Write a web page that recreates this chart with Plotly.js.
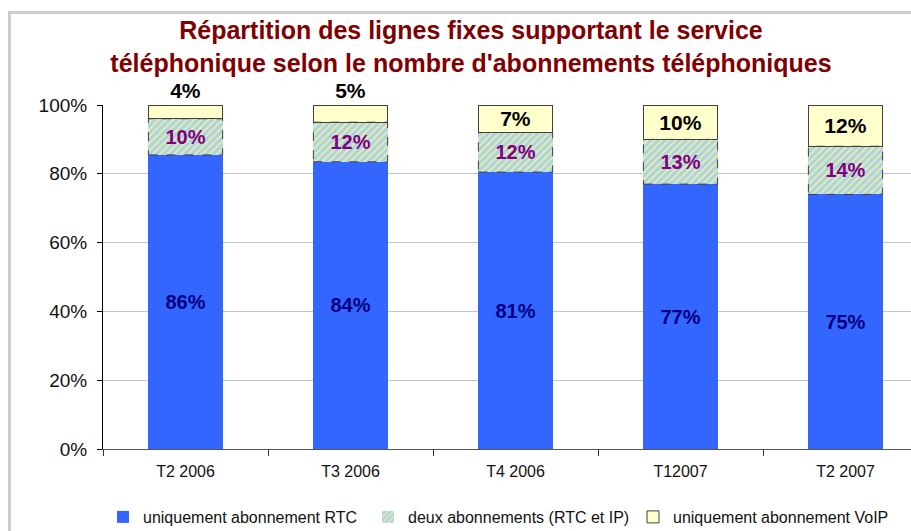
<!DOCTYPE html>
<html>
<head>
<meta charset="utf-8">
<script src="https://cdn.plot.ly/plotly-3.0.1.min.js"></script>
<style>
  html, body { margin:0; padding:0; background:#fff; overflow:hidden; width:911px; height:531px; }
  #frame { position:absolute; left:8px; top:11px; width:1000px; height:600px; border-left:3px solid #cccccc; border-top:3px solid #cccccc; pointer-events:none; z-index:5; }
  #chart { position:absolute; left:0; top:0; }
</style>
</head>
<body>
<div id="chart"></div>
<div id="frame"></div>
<script>
const categories = ['T2 2006', 'T3 2006', 'T4 2006', 'T12007', 'T2 2007'];
const rtcValues  = [85.5, 83.5, 80.5, 77, 74];
const deuxValues = [10.5, 11.5, 11.5, 13, 14];
const voipValues = [4, 5, 8, 10, 12];
const rtcLabels  = ['86%', '84%', '81%', '77%', '75%'];
const deuxLabels = ['10%', '12%', '12%', '13%', '14%'];
const voipLabels = ['4%', '5%', '7%', '10%', '12%'];
const seriesNames = ['uniquement abonnement RTC', 'deux abonnements (RTC et IP)', 'uniquement abonnement VoIP'];
const yTickVals = [0, 20, 40, 60, 80, 100];
const yTickText = ['0%', '20%', '40%', '60%', '80%', '100%'];
const titleText = 'Répartition des lignes fixes supportant le service<br>téléphonique selon le nombre d\'abonnements téléphoniques';

const FONT = 'Liberation Sans, Arial, sans-serif';
const BAR_W = 0.45;
const W = 928;

const traces = [
  {
    type: 'bar', name: seriesNames[0], x: categories, y: rtcValues,
    width: BAR_W, text: rtcLabels, textposition: 'inside', insidetextanchor: 'middle',
    textangle: 0, constraintext: 'none',
    textfont: { family: FONT, size: 20, color: '#000080', weight: 'bold' },
    marker: { color: '#3366ff', line: { width: 0 } },
    hoverinfo: 'skip'
  },
  {
    type: 'bar', name: seriesNames[1], x: categories, y: deuxValues,
    width: BAR_W, text: deuxLabels, textposition: 'inside', insidetextanchor: 'middle',
    textangle: 0, constraintext: 'none',
    textfont: { family: FONT, size: 20, color: '#800080', weight: 'bold' },
    marker: { color: '#a8d2f2', line: { width: 0 },
      pattern: { shape: '/', fgcolor: '#f2f08c', bgcolor: '#a8d2f2', fillmode: 'replace', size: 5, solidity: 0.35 } },
    hoverinfo: 'skip'
  },
  {
    type: 'bar', name: seriesNames[2], x: categories, y: voipValues,
    width: BAR_W, text: voipLabels,
    textposition: ['outside', 'outside', 'inside', 'inside', 'inside'],
    insidetextanchor: 'middle', textangle: 0, constraintext: 'none', cliponaxis: false,
    textfont: { family: FONT, size: 21, color: '#000000', weight: 'bold' },
    outsidetextfont: { family: FONT, size: 21, color: '#000000', weight: 'bold' },
    marker: { color: '#ffffcc', line: { width: 1, color: '#404040' } },
    hoverinfo: 'skip'
  }
];

// dashed outline around the middle series, derived from the data arrays
const shapes = categories.map((c, i) => ({
  type: 'rect', xref: 'x', yref: 'y', layer: 'above',
  x0: i - BAR_W / 2, x1: i + BAR_W / 2,
  y0: rtcValues[i], y1: rtcValues[i] + deuxValues[i],
  line: { color: '#404040', width: 1, dash: 'dash' }
}));

const layout = {
  width: W, height: 531,
  margin: { l: 103, r: 0, t: 105, b: 82, pad: 0 },
  paper_bgcolor: '#ffffff', plot_bgcolor: '#ffffff',
  barmode: 'stack', showlegend: true,
  title: {
    text: titleText, xref: 'container', x: 471 / W, xanchor: 'center',
    yref: 'container', y: 1 - 39 / 531, yanchor: 'top',
    font: { family: FONT, size: 25, color: '#800000', weight: 'bold' }
  },
  xaxis: {
    type: 'category', range: [-0.5, 4.5], tickson: 'boundaries',
    ticks: 'outside', ticklen: 6, tickcolor: '#333', showline: true, linecolor: '#555', linewidth: 1,
    tickfont: { family: FONT, size: 16, color: '#111' }, ticklabelstandoff: 8, showgrid: false, fixedrange: true
  },
  yaxis: {
    range: [0, 100], tickvals: yTickVals, ticktext: yTickText,
    ticks: 'outside', ticklen: 5, tickcolor: '#000', showline: true, linecolor: '#000', linewidth: 1,
    gridcolor: '#c4c4c4', gridwidth: 1, zeroline: false,
    tickfont: { family: FONT, size: 19, color: '#111' }, ticklabelstandoff: 6, fixedrange: true
  },
  legend: {
    orientation: 'h', xref: 'container', yref: 'container', x: 103 / W, y: 1 - 500 / 531,
    xanchor: 'left', yanchor: 'top', itemwidth: 30, entrywidth: 220,
    font: { family: FONT, size: 16, color: '#111' }, traceorder: 'normal'
  },
  shapes: shapes
};

Plotly.newPlot('chart', traces, layout, { staticPlot: true, displayModeBar: false });
</script>
</body>
</html>
